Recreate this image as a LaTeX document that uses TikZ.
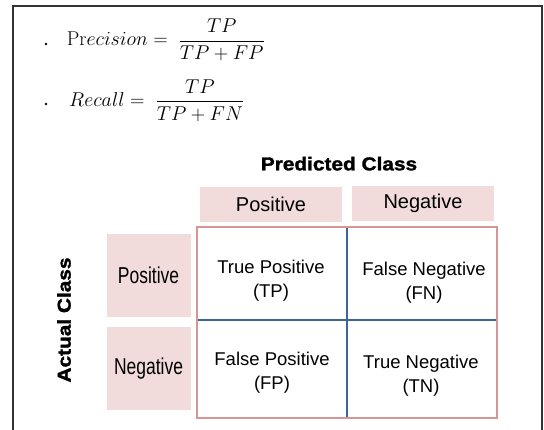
\documentclass[tikz,border=0pt]{standalone}
\usepackage{fix-cm}
\usepackage{fontspec}
\newfontfamily\cellfont{Liberation Sans}
\newfontfamily\heavyfont[FakeStretch=1.12,FakeBold=1.6]{Liberation Sans Bold}
\newfontfamily\narrowfont[FakeStretch=0.76]{Liberation Sans}
\definecolor{boxpink}{HTML}{F2DCDB}
\definecolor{gridpink}{HTML}{D99594}
\definecolor{gridblue}{HTML}{3C649A}
\definecolor{framegray}{HTML}{333333}
\begin{document}
\begin{tikzpicture}[
    x=1pt, y=-1pt,
    dot/.style={circle, fill=black, inner sep=0pt, minimum size=2.8pt},
    formula/.style={anchor=base west, inner sep=0pt, font=\fontsize{20}{24}\selectfont},
    title/.style={inner sep=0pt, font=\heavyfont\fontsize{18.6}{22}\selectfont},
    hdrbox/.style={fill=boxpink, inner sep=0pt, minimum width=142pt, minimum height=35pt,
      font=\cellfont\fontsize{20}{24}\selectfont},
    rowbox/.style={fill=boxpink, inner sep=0pt, minimum width=84pt, minimum height=83pt,
      font=\narrowfont\fontsize{23}{26}\selectfont},
    cell/.style={inner sep=0pt, align=center, font=\cellfont\fontsize{18.5}{24}\selectfont},
    outer/.style={draw=gridpink, line width=1.5pt},
    split/.style={draw=gridblue, line width=1.5pt}]

    \useasboundingbox (0,0) rectangle (544,430);
    \draw[framegray, line width=2pt] (13,430) -- (13,6) -- (541.5,6) -- (541.5,430);

    \node[dot] (b1) at (46,44) {};
    \node[formula] (prec) at (66.7,46) {$\mathrm{Pr}ecision = \;\displaystyle\frac{TP}{TP+FP}$};

    \node[dot] (b2) at (46,104) {};
    \node[formula] (rec) at (69,106.7) {$Recall = \;\displaystyle\frac{TP}{TP+FN}$};

    \node[title] (pred) at (339,163.7) {Predicted Class};
    \node[title, rotate=90] (act) at (64,320) {Actual Class};

    \node[hdrbox] (ppos) at (271,204.5) {Positive};
    \node[hdrbox] (pneg) at (423,203.5) {Negative};

    \node[rowbox] (apos) at (148.6,275.3) {Positive};
    \node[rowbox] (aneg) at (148.6,368.3) {Negative};

    \coordinate (gnw) at (197,227);
    \coordinate (gse) at (497,418);
    \coordinate (gmid) at (347,320);
    \draw[split] (gmid |- gnw) -- (gmid |- gse);
    \draw[split] (gnw |- gmid) -- (gse |- gmid);
    \draw[outer] (gnw) rectangle (gse);

    \node[cell] (tp) at (271,281) {True Positive\\(TP)};
    \node[cell] (fn) at (424,283) {False Negative\\(FN)};
    \node[cell] (fp) at (272,373) {False Positive\\(FP)};
    \node[cell] (tn) at (421,375.5) {True Negative\\(TN)};
  \end{tikzpicture}
\end{document}
